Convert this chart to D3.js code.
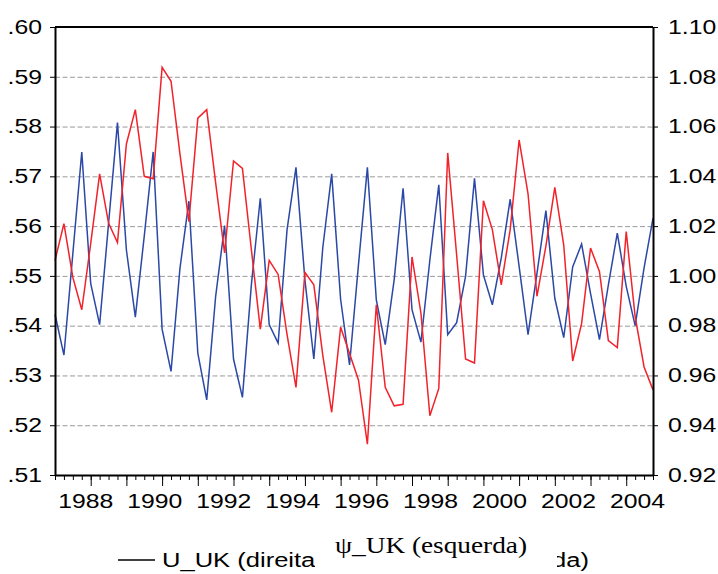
<!DOCTYPE html>
<html>
<head>
<meta charset="utf-8">
<script src="https://cdn.jsdelivr.net/npm/d3@7/dist/d3.min.js"></script>
<style>
  body { margin: 0; background: #fff; }
  .axis text { font-family: "Liberation Sans", Arial, sans-serif; font-size: 19.5px; fill: #000; }
  .axis path, .axis line { stroke: #000; }
  .grid line { stroke: #9a9a9a; stroke-dasharray: 5,2.5; }
  .grid path { display: none; }
  .overlay { font-family: "Liberation Serif", "Times New Roman", Times, "DejaVu Serif", serif; font-size: 24px; font-weight: normal; fill: #000; }
</style>
</head>
<body>
<svg class="chart"></svg>
<script>
// Quarterly observations, 1988Q1 - 2004Q4
var startYear = 1988;

// PSI_UK, plotted against the left axis (esquerda)
var psiUK = [
    0.5531, 0.5605, 0.5497, 0.5432, 0.5565, 0.5705, 0.5606, 0.5567,
    0.5765, 0.5834, 0.5700, 0.5695, 0.5919, 0.5891, 0.5745, 0.5609,
    0.5817, 0.5834, 0.5687, 0.5546, 0.5731, 0.5716, 0.5553, 0.5393,
    0.5531, 0.5503, 0.5382, 0.5276, 0.5507, 0.5482, 0.5341, 0.5226,
    0.5397, 0.5344, 0.5291, 0.5162, 0.5442, 0.5276, 0.5239, 0.5242,
    0.5538, 0.5425, 0.5219, 0.5274, 0.5747, 0.5542, 0.5333, 0.5325,
    0.5651, 0.5593, 0.5482, 0.5593, 0.5773, 0.5665, 0.5459, 0.5560,
    0.5678, 0.5562, 0.5329, 0.5404, 0.5556, 0.5509, 0.5370, 0.5356,
    0.5589, 0.5418, 0.5317, 0.5271
];

// U_UK, plotted against the right axis (direita)
var uUK = [
    0.9846, 0.9682, 1.0090, 1.0498, 0.9970, 0.9804, 1.0210, 1.0616,
    1.0104, 0.9834, 1.0160, 1.0498, 0.9786, 0.9616, 1.0030, 1.0300,
    0.9690, 0.9502, 0.9918, 1.0202, 0.9666, 0.9512, 0.9964, 1.0312,
    0.9804, 0.9730, 1.0186, 1.0436, 0.9984, 0.9666, 1.0112, 1.0410,
    0.9906, 0.9642, 1.0044, 1.0436, 0.9904, 0.9724, 0.9984, 1.0352,
    0.9864, 0.9734, 1.0064, 1.0366, 0.9764, 0.9812, 0.9998, 1.0392,
    1.0004, 0.9884, 1.0072, 1.0308, 1.0038, 0.9764, 1.0010, 1.0262,
    0.9910, 0.9752, 1.0036, 1.0128, 0.9930, 0.9744, 0.9964, 1.0172,
    0.9958, 0.9800, 1.0032, 1.0232
];

var leftTicks = [0.51, 0.52, 0.53, 0.54, 0.55, 0.56, 0.57, 0.58, 0.59, 0.60];
var rightTicks = [0.92, 0.94, 0.96, 0.98, 1.00, 1.02, 1.04, 1.06, 1.08, 1.10];
var yearLabels = [1988, 1990, 1992, 1994, 1996, 1998, 2000, 2002, 2004];

var legendBlue = 'U_UK (direita)';
var legendRed = 'PSI_UK (esquerda)';
var overlayText = '\u03C8_UK (esquerda)';

var margin = { top: 27, right: 65, bottom: 99, left: 55 },
    width = 718 - margin.left - margin.right,
    height = 574 - margin.top - margin.bottom;

var svg = d3.select('.chart')
    .attr('width', width + margin.left + margin.right)
    .attr('height', height + margin.top + margin.bottom);

var chart = svg.append('g')
    .attr('transform', 'translate(' + margin.left + ',' + margin.top + ')');

// scales
var x = d3.scaleLinear().domain([0, psiUK.length - 1]).range([0, width]);
var yLeft = d3.scaleLinear().domain([0.51, 0.60]).range([height, 0]);
var yRight = d3.scaleLinear().domain([0.92, 1.10]).range([height, 0]);

// year labels sit a little off the year ticks, as in the original
var xLabel = d3.scaleLinear().domain([startYear, 2004]).range([x(3.4), x(65.2)]);

// dashed gridlines
chart.append('g')
    .attr('class', 'grid')
    .call(d3.axisLeft(yLeft)
        .tickValues(leftTicks.slice(1, -1))
        .tickSize(-width)
        .tickFormat(''));

// lines
var redLine = d3.line()
    .x(function (d, i) { return x(i); })
    .y(function (d) { return yLeft(d); });

var blueLine = d3.line()
    .x(function (d, i) { return x(i); })
    .y(function (d) { return yRight(d); });

chart.append('path')
    .datum(uUK)
    .attr('fill', 'none')
    .attr('stroke', '#2b48a6')
    .attr('stroke-width', 1.5)
    .attr('d', blueLine);

chart.append('path')
    .datum(psiUK)
    .attr('fill', 'none')
    .attr('stroke', '#f2222a')
    .attr('stroke-width', 1.5)
    .attr('d', redLine);

// frame: top border
chart.append('line')
    .attr('x1', 0).attr('x2', width)
    .attr('y1', 0).attr('y2', 0)
    .attr('stroke', '#000').attr('stroke-width', 2);

// left axis
var fmtLeft = function (d) { return d3.format('.2f')(d).replace(/^0/, ''); };
chart.append('g')
    .attr('class', 'axis left')
    .call(d3.axisLeft(yLeft).tickValues(leftTicks).tickSize(5).tickSizeOuter(0).tickPadding(8).tickFormat(fmtLeft))
    .call(function (g) { g.select('.domain').attr('stroke-width', 2); });

// right axis
chart.append('g')
    .attr('class', 'axis right')
    .attr('transform', 'translate(' + width + ',0)')
    .call(d3.axisRight(yRight).tickValues(rightTicks).tickSize(5).tickSizeOuter(0).tickPadding(10).tickFormat(d3.format('.2f')))
    .call(function (g) { g.select('.domain').attr('stroke-width', 2); });

// bottom axis: quarterly minor ticks, longer ticks at each year
chart.append('g')
    .attr('class', 'axis bottom')
    .attr('transform', 'translate(0,' + height + ')')
    .call(d3.axisBottom(x).tickValues(d3.range(psiUK.length)).tickSize(5).tickSizeOuter(0).tickFormat(''))
    .call(function (g) { g.select('.domain').attr('stroke-width', 2); });

chart.append('g')
    .attr('class', 'axis bottom')
    .attr('transform', 'translate(0,' + height + ')')
    .call(d3.axisBottom(x).tickValues(d3.range(4, psiUK.length, 4)).tickSize(11).tickFormat(''))
    .call(function (g) { g.select('.domain').remove(); });

// year labels
chart.append('g')
    .attr('class', 'axis years')
    .attr('transform', 'translate(0,' + height + ')')
    .call(d3.axisBottom(xLabel).tickValues(yearLabels).tickSize(0).tickPadding(19).tickFormat(d3.format('d')))
    .call(function (g) { g.select('.domain').remove(); });

// legend
var legend = svg.append('g').attr('class', 'axis legend');

legend.append('line')
    .attr('x1', 118).attr('x2', 155).attr('y1', 560).attr('y2', 560)
    .attr('stroke', '#2b48a6').attr('stroke-width', 1.5);
legend.append('text')
    .attr('x', 162).attr('y', 567)
    .attr('class', 'stretch-more')
    .text(legendBlue);

legend.append('line')
    .attr('x1', 368).attr('x2', 405).attr('y1', 560).attr('y2', 560)
    .attr('stroke', '#f2222a').attr('stroke-width', 1.5);
legend.append('text')
    .attr('x', 589).attr('y', 567)
    .attr('text-anchor', 'end')
    .attr('class', 'stretch-more')
    .text(legendRed);

// widen the sans text the way the original picture is stretched
svg.selectAll('.axis text').each(function () {
    var len = this.getComputedTextLength();
    var k = d3.select(this).classed('stretch-more') ? 1.31 : 1.27;
    d3.select(this)
        .attr('textLength', len * k)
        .attr('lengthAdjust', 'spacingAndGlyphs');
});

// text box pasted over the middle of the legend
svg.append('rect')
    .attr('x', 315).attr('y', 524)
    .attr('width', 242).attr('height', 50)
    .attr('fill', '#fff');

svg.append('text')
    .attr('class', 'overlay')
    .attr('x', 335).attr('y', 553)
    .attr('textLength', 192)
    .attr('lengthAdjust', 'spacingAndGlyphs')
    .text(overlayText);
</script>
</body>
</html>
